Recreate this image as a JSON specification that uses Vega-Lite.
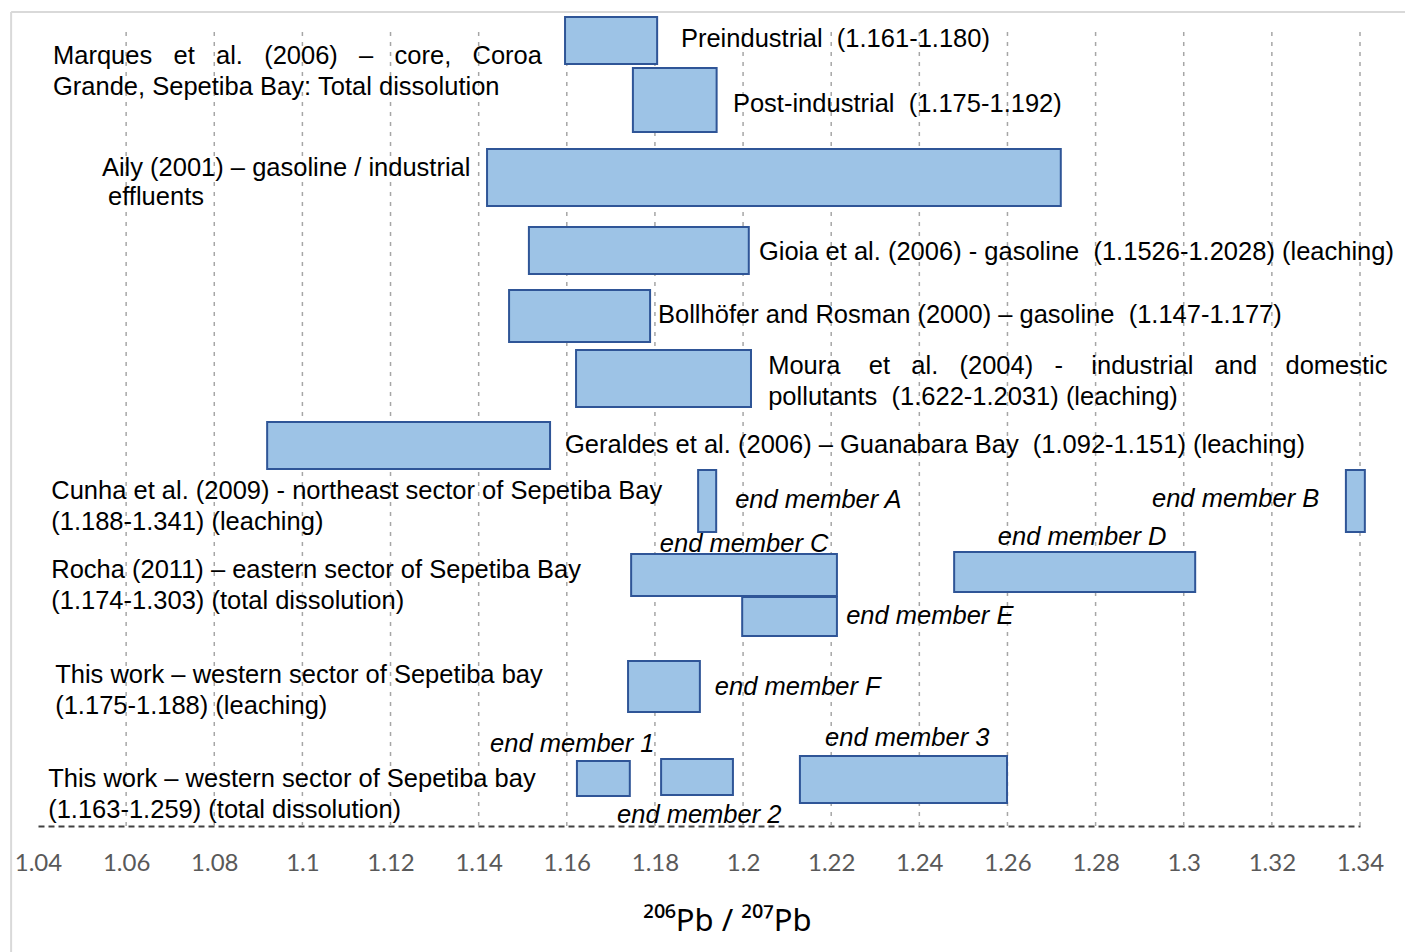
{
  "$schema": "https://vega.github.io/schema/vega-lite/v6.json",
  "width": 1322,
  "height": 814,
  "autosize": "none",
  "padding": {"left": 38, "top": 12, "right": 45, "bottom": 126},
  "background": "white",
  "config": {"view": {"stroke": null}},
  "datasets": {
    "frame": [
      {"x": 1.0339, "y": 81.4, "x2": 1.3505, "y2": 81.4},
      {"x": 1.0339, "y": 81.4, "x2": 1.0339, "y2": -12.6}
    ],
    "grid": [
      {"x": 1.06, "y": 0, "y2": 79.4}, {"x": 1.08, "y": 0, "y2": 79.4}, {"x": 1.10, "y": 0, "y2": 79.4},
      {"x": 1.12, "y": 0, "y2": 79.4}, {"x": 1.14, "y": 0, "y2": 79.4}, {"x": 1.16, "y": 0, "y2": 79.4},
      {"x": 1.18, "y": 0, "y2": 79.4}, {"x": 1.20, "y": 0, "y2": 79.4}, {"x": 1.22, "y": 0, "y2": 79.4},
      {"x": 1.24, "y": 0, "y2": 79.4}, {"x": 1.26, "y": 0, "y2": 79.4}, {"x": 1.28, "y": 0, "y2": 79.4},
      {"x": 1.30, "y": 0, "y2": 79.4}, {"x": 1.32, "y": 0, "y2": 79.4}, {"x": 1.34, "y": 0, "y2": 79.4}
    ],
    "bars": [
      {"name": "Preindustrial", "x": 1.1596, "x2": 1.1805, "y": 80.9, "y2": 76.2},
      {"name": "Post-industrial", "x": 1.1750, "x2": 1.1940, "y": 75.8, "y2": 69.4},
      {"name": "Aily", "x": 1.1419, "x2": 1.2721, "y": 67.7, "y2": 62.0},
      {"name": "Gioia", "x": 1.1514, "x2": 1.2013, "y": 59.9, "y2": 55.2},
      {"name": "Bollhofer", "x": 1.1469, "x2": 1.1789, "y": 53.6, "y2": 48.4},
      {"name": "Moura", "x": 1.1621, "x2": 1.2018, "y": 47.6, "y2": 41.9},
      {"name": "Geraldes", "x": 1.0920, "x2": 1.1562, "y": 40.4, "y2": 35.7},
      {"name": "end member A", "x": 1.1898, "x2": 1.1939, "y": 35.6, "y2": 29.4},
      {"name": "end member B", "x": 1.3368, "x2": 1.3411, "y": 35.6, "y2": 29.4},
      {"name": "end member C", "x": 1.1746, "x2": 1.2213, "y": 27.2, "y2": 23.0},
      {"name": "end member D", "x": 1.2479, "x2": 1.3026, "y": 27.4, "y2": 23.4},
      {"name": "end member E", "x": 1.1998, "x2": 1.2213, "y": 22.9, "y2": 19.0},
      {"name": "end member F", "x": 1.1739, "x2": 1.1902, "y": 16.5, "y2": 11.4},
      {"name": "end member 1", "x": 1.1623, "x2": 1.1743, "y": 6.5, "y2": 3.0},
      {"name": "end member 2", "x": 1.1814, "x2": 1.1977, "y": 6.7, "y2": 3.1},
      {"name": "end member 3", "x": 1.2129, "x2": 1.2599, "y": 7.0, "y2": 2.3}
    ],
    "refs": [
      {"x": 1.0434, "y": 76.2, "label": "Marques\u00a0\u00a0\u00a0et\u00a0\u00a0\u00a0al.\u00a0\u00a0\u00a0(2006)\u00a0\u00a0\u00a0–\u00a0\u00a0\u00a0core,\u00a0\u00a0\u00a0Coroa"},
      {"x": 1.0434, "y": 73.1, "label": "Grande,\u00a0Sepetiba\u00a0Bay:\u00a0Total\u00a0dissolution"},
      {"x": 1.1859, "y": 77.9, "label": "Preindustrial\u00a0\u00a0(1.161-1.180)"},
      {"x": 1.1977, "y": 71.4, "label": "Post-industrial\u00a0\u00a0(1.175-1.192)"},
      {"x": 1.0545, "y": 65.0, "label": "Aily (2001) – gasoline / industrial"},
      {"x": 1.0559, "y": 62.1, "label": "effluents"},
      {"x": 1.2036, "y": 56.6, "label": "Gioia et al. (2006) - gasoline\u00a0\u00a0(1.1526-1.2028) (leaching)"},
      {"x": 1.1807, "y": 50.3, "label": "Bollhöfer and Rosman (2000) – gasoline\u00a0\u00a0(1.147-1.177)"},
      {"x": 1.2057, "y": 45.2, "label": "Moura\u00a0\u00a0\u00a0\u00a0et\u00a0\u00a0\u00a0al.\u00a0\u00a0\u00a0(2004)\u00a0\u00a0\u00a0-\u00a0\u00a0\u00a0\u00a0industrial\u00a0\u00a0\u00a0and\u00a0\u00a0\u00a0\u00a0domestic"},
      {"x": 1.2057, "y": 42.1, "label": "pollutants\u00a0\u00a0(1.622-1.2031) (leaching)"},
      {"x": 1.1596, "y": 37.3, "label": "Geraldes et al. (2006) – Guanabara Bay\u00a0\u00a0(1.092-1.151) (leaching)"},
      {"x": 1.0430, "y": 32.7, "label": "Cunha et al. (2009) - northeast sector of Sepetiba Bay"},
      {"x": 1.0430, "y": 29.6, "label": "(1.188-1.341) (leaching)"},
      {"x": 1.0430, "y": 24.8, "label": "Rocha (2011) – eastern sector of Sepetiba Bay"},
      {"x": 1.0430, "y": 21.7, "label": "(1.174-1.303) (total dissolution)"},
      {"x": 1.0439, "y": 14.3, "label": "This work – western sector of Sepetiba bay"},
      {"x": 1.0439, "y": 11.2, "label": "(1.175-1.188) (leaching)"},
      {"x": 1.0423, "y": 3.9, "label": "This work – western sector of Sepetiba bay"},
      {"x": 1.0423, "y": 0.8, "label": "(1.163-1.259) (total dissolution)"}
    ],
    "members": [
      {"x": 1.1982, "y": 31.8, "label": "end member A"},
      {"x": 1.2928, "y": 31.9, "label": "end member B"},
      {"x": 1.1811, "y": 27.4, "label": "end member C"},
      {"x": 1.2578, "y": 28.1, "label": "end member D"},
      {"x": 1.2234, "y": 20.2, "label": "end member E"},
      {"x": 1.1936, "y": 13.1, "label": "end member F"},
      {"x": 1.1426, "y": 7.4, "label": "end member 1"},
      {"x": 1.1714, "y": 0.3, "label": "end member 2"},
      {"x": 1.2186, "y": 8.0, "label": "end member 3"}
    ]
  },
  "encoding": {
    "x": {
      "field": "x", "type": "quantitative",
      "scale": {"domain": [1.04, 1.34], "nice": false, "zero": false},
      "axis": {
        "values": [1.04, 1.06, 1.08, 1.1, 1.12, 1.14, 1.16, 1.18, 1.2, 1.22, 1.24, 1.26, 1.28, 1.3, 1.32, 1.34],
        "format": "~g",
        "grid": false,
        "ticks": false,
        "tickSize": 0,
        "domain": true,
        "domainColor": "#404040",
        "domainWidth": 2,
        "domainDash": [6, 4],
        "labelFont": "Lato",
        "labelFontSize": 24,
        "labelColor": "#595959",
        "labelPadding": 25,
        "labelFlush": false,
        "labelOverlap": false,
        "title": "²⁰⁶Pb / ²⁰⁷Pb",
        "titleFont": "Noto Sans",
        "titleFontSize": 31,
        "titleFontWeight": "normal",
        "titleColor": "#000000",
        "titleX": 689,
        "titleY": 104,
        "titleAlign": "center",
        "titleBaseline": "alphabetic",
        "titleAnchor": null
      }
    },
    "y": {
      "field": "y", "type": "quantitative",
      "scale": {"domain": [0, 81.4], "nice": false, "zero": false},
      "axis": null
    }
  },
  "layer": [
    {
      "data": {"name": "frame"},
      "mark": {"type": "rule", "color": "#D9D9D9", "strokeWidth": 2, "clip": false},
      "encoding": {
        "x2": {"field": "x2"},
        "y2": {"field": "y2"}
      }
    },
    {
      "data": {"name": "grid"},
      "mark": {"type": "rule", "color": "#A6A6A6", "strokeWidth": 1.5, "strokeDash": [4, 6]},
      "encoding": {
        "y2": {"field": "y2"}
      }
    },
    {
      "data": {"name": "bars"},
      "mark": {"type": "rect", "fill": "#9DC3E6", "stroke": "#2F5597", "strokeWidth": 2},
      "encoding": {
        "x2": {"field": "x2"},
        "y2": {"field": "y2"}
      }
    },
    {
      "data": {"name": "refs"},
      "mark": {"type": "text", "font": "Liberation Sans", "fontSize": 25.5, "color": "#000000", "align": "left", "baseline": "alphabetic"},
      "encoding": {
        "text": {"field": "label"}
      }
    },
    {
      "data": {"name": "members"},
      "mark": {"type": "text", "font": "Liberation Sans", "fontSize": 25.5, "fontStyle": "italic", "color": "#000000", "align": "left", "baseline": "alphabetic"},
      "encoding": {
        "text": {"field": "label"}
      }
    }
  ]
}
